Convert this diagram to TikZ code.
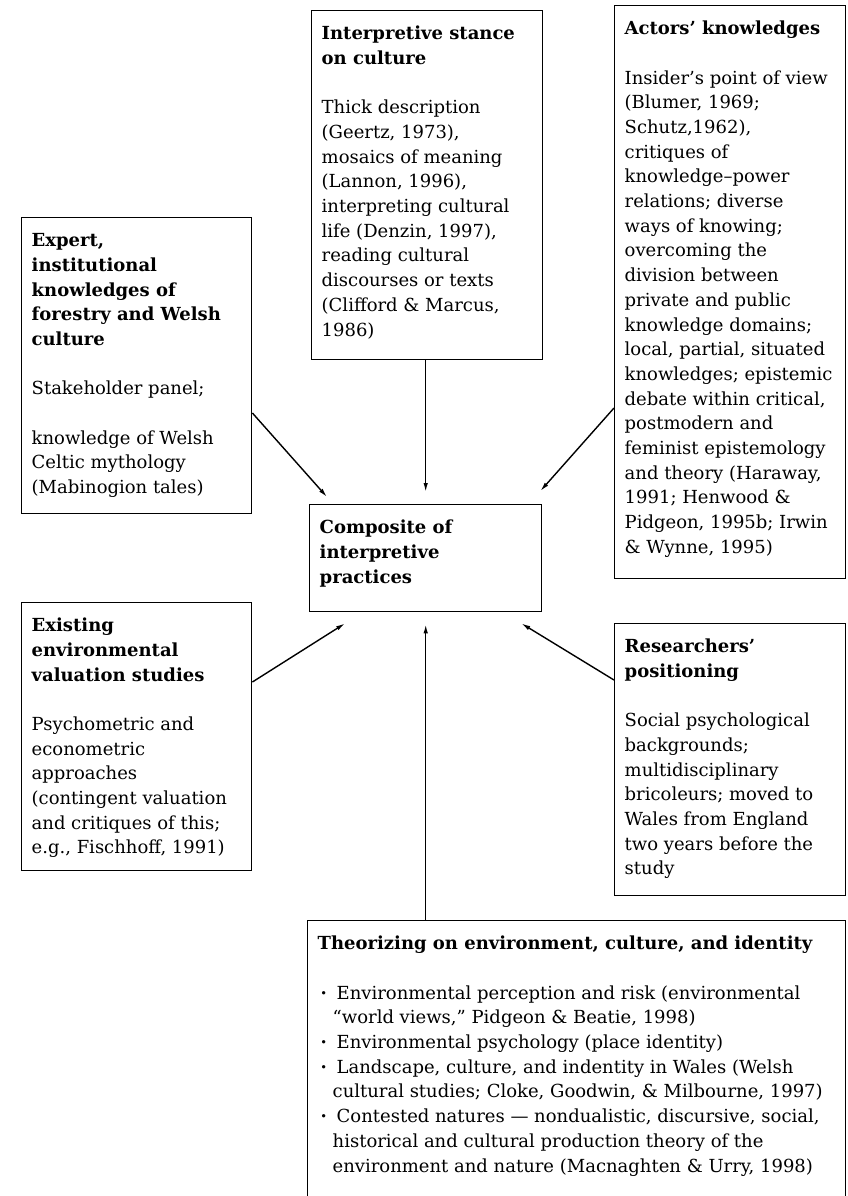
\documentclass[tikz,border=0pt]{standalone}
\usepackage{fontspec}
\setmainfont{DejaVu Serif}
\usetikzlibrary{arrows.meta}
\newlength{\bxs}\setlength{\bxs}{10pt}
\newlength{\bys}\setlength{\bys}{11.7pt}
\newcommand{\blankline}{\\[24.7pt]}
\newcommand{\mybox}[6]{%
  \node[infobox] (#1) at (#2,#3)
    {\parbox[t][\dimexpr #5pt-2\bys\relax][t]{\dimexpr #4pt-2\bxs\relax}{\raggedright\strut #6}};}
\newcommand{\bul}{\leavevmode\makebox[19pt][l]{\hspace*{3pt}\textbf{·}}}
\newcommand{\cont}{\leavevmode\hspace*{15pt}}
\tikzset{
  infobox/.style={draw, line width=1.4pt, anchor=north west, inner xsep=\bxs, inner ysep=\bys,
    font=\fontsize{18}{24.7}\selectfont},
  arr/.style={line width=1.4pt, -{Latex[length=9pt,width=4.5pt]}}
}
\begin{document}
\begin{tikzpicture}[x=1pt,y=-1pt]
\useasboundingbox (0,0) rectangle (847,1196);
\fill[white] (0,0) rectangle (847,1196);
\clip (0,0) rectangle (847,1196);

\mybox{interp}{311}{10}{231}{349}{%
\textbf{Interpretive stance}\\
\textbf{on culture}\blankline
Thick description\\
(Geertz, 1973),\\
mosaics of meaning\\
(Lannon, 1996),\\
interpreting cultural\\
life (Denzin, 1997),\\
reading cultural\\
discourses or texts\\
(Clifford \& Marcus,\\
1986)}

\mybox{actors}{614}{5}{231}{573}{%
\textbf{Actors’ knowledges}\blankline
Insider’s point of view\\
(Blumer, 1969;\\
Schutz,1962),\\
critiques of\\
knowledge–power\\
relations; diverse\\
ways of knowing;\\
overcoming the\\
division between\\
private and public\\
knowledge domains;\\
local, partial, situated\\
knowledges; epistemic\\
debate within critical,\\
postmodern and\\
feminist epistemology\\
and theory (Haraway,\\
1991; Henwood \&\\
Pidgeon, 1995b; Irwin\\
\& Wynne, 1995)}

\mybox{expert}{21}{217}{230}{296}{%
\textbf{Expert,}\\
\textbf{institutional}\\
\textbf{knowledges of}\\
\textbf{forestry and Welsh}\\
\textbf{culture}\blankline
Stakeholder panel;\blankline
knowledge of Welsh\\
Celtic mythology\\
(Mabinogion tales)}

\mybox{comp}{309}{504}{232}{107}{%
\textbf{Composite of}\\
\textbf{interpretive}\\
\textbf{practices}}

\mybox{exist}{21}{602}{230}{268}{%
\textbf{Existing}\\
\textbf{environmental}\\
\textbf{valuation studies}\blankline
Psychometric and\\
econometric\\
approaches\\
(contingent valuation\\
and critiques of this;\\
e.g., Fischhoff, 1991)}

\mybox{res}{614}{623}{231}{272}{%
\textbf{Researchers’}\\
\textbf{positioning}\blankline
Social psychological\\
backgrounds;\\
multidisciplinary\\
bricoleurs; moved to\\
Wales from England\\
two years before the\\
study}

\mybox{theo}{307}{920}{538}{320}{%
\textbf{Theorizing on environment, culture, and identity}\blankline
\bul Environmental perception and risk (environmental\\
\cont “world views,” Pidgeon \& Beatie, 1998)\\
\bul Environmental psychology (place identity)\\
\bul Landscape, culture, and indentity in Wales (Welsh\\
\cont cultural studies; Cloke, Goodwin, \& Milbourne, 1997)\\
\bul Contested natures — nondualistic, discursive, social,\\
\cont historical and cultural production theory of the\\
\cont environment and nature (Macnaghten \& Urry, 1998)}

% connectors
\draw[arr] (interp.south -| comp.north) -- ([yshift=12pt]comp.north);
\draw[arr] ([yshift=-196pt]expert.north east) -- ([xshift=18pt,yshift=7pt]comp.north west);
\draw[arr] ([yshift=-403pt]actors.north west) -- ([xshift=-2pt,yshift=13pt]comp.north east);
\draw[arr] ([yshift=-80pt]exist.north east) -- ([xshift=36pt,yshift=-11pt]comp.south west);
\draw[arr] (theo.north -| comp.south) -- ([yshift=-12pt]comp.south);
\draw[arr] ([yshift=-57pt]res.north west) -- ([xshift=-21pt,yshift=-11pt]comp.south east);
\end{tikzpicture}
\end{document}
